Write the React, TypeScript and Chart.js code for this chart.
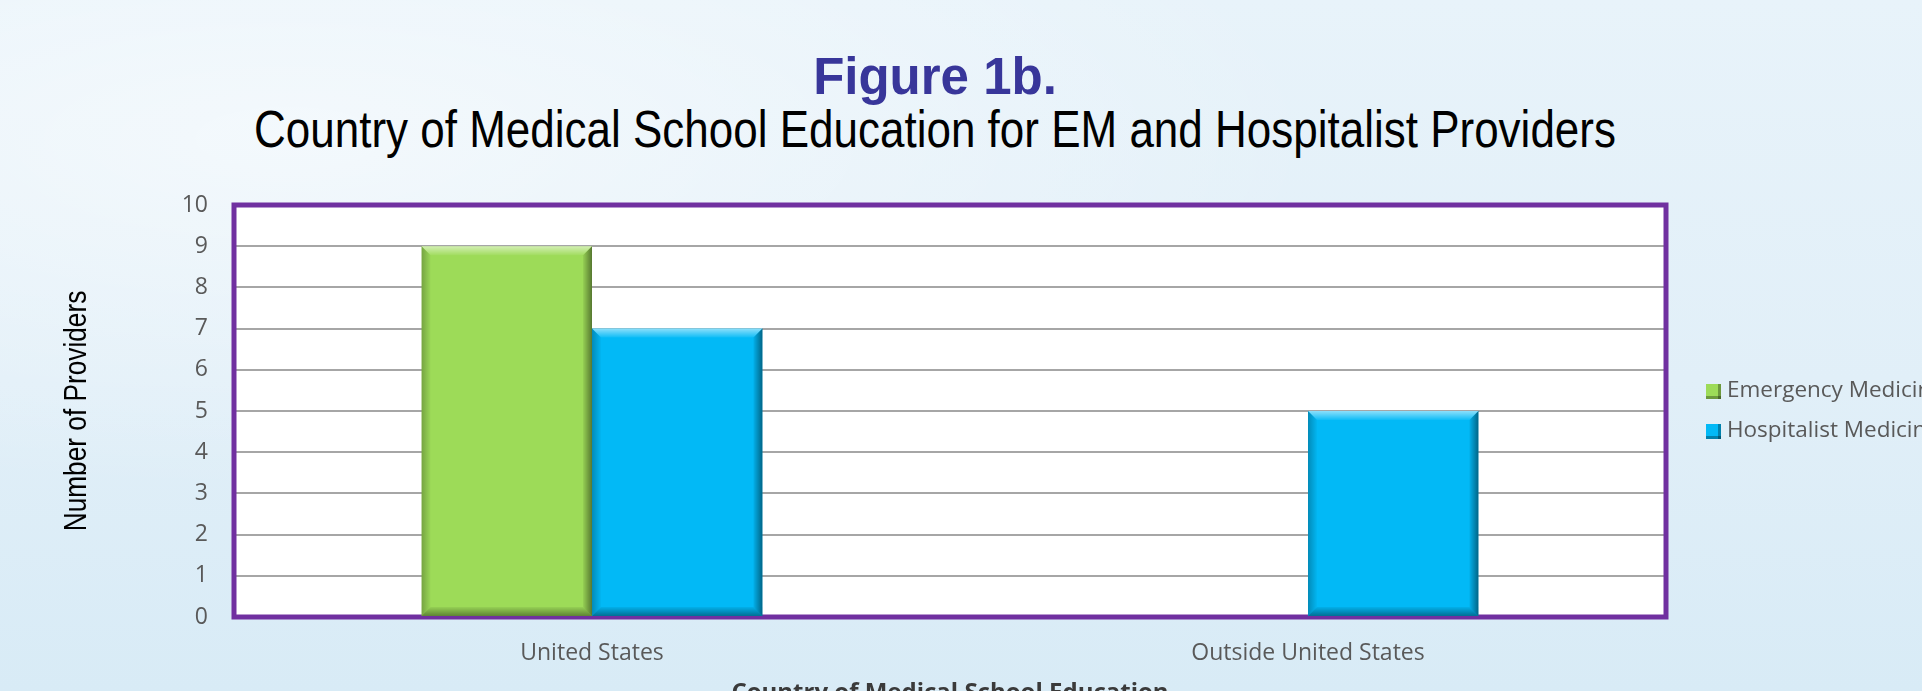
import React, { useEffect, useRef } from "react";
import { Chart, registerables } from "chart.js";

Chart.register(...registerables);

const categories = ["United States", "Outside United States"];
const seriesLabels = ["Emergency Medicine", "Hospitalist Medicine"];
const emergencyMedicine = [9, 0];
const hospitalistMedicine = [7, 5];
const seriesColors = ["#9DDB58", "#02B9F6"];
const yMin = 0;
const yMax = 10;
const yStep = 1;

const titleText = "Figure 1b.";
const subtitleText = "Country of Medical School Education for EM and Hospitalist Providers";
const yAxisTitle = "Number of Providers";
const xAxisTitle = "Country of Medical School Education";

const TICK_FONT = "'Open Sans', 'Noto Sans', sans-serif";
const SANS_FONT = "'Liberation Sans', Arial, sans-serif";

const plotPlugin = {
  id: "plotDecor",
  beforeDraw(chart: any) {
    const { ctx, chartArea } = chart;
    ctx.save();
    ctx.fillStyle = "#ffffff";
    ctx.fillRect(chartArea.left, chartArea.top, chartArea.right - chartArea.left, chartArea.bottom - chartArea.top);
    ctx.restore();
  },
  beforeDatasetsDraw(chart: any) {
    const { ctx, chartArea } = chart;
    ctx.save();
    ctx.strokeStyle = "#7030A0";
    ctx.lineWidth = 5;
    ctx.strokeRect(chartArea.left, chartArea.top, chartArea.right - chartArea.left, chartArea.bottom - chartArea.top);
    ctx.restore();
  },
  afterDatasetsDraw(chart: any) {
    const { ctx } = chart;
    chart.data.datasets.forEach((ds: any, di: number) => {
      const meta = chart.getDatasetMeta(di);
      meta.data.forEach((bar: any) => {
        const { x, y, base, width } = bar.getProps(["x", "y", "base", "width"], true);
        const h = base - y;
        if (h < 2) return;
        const l = x - width / 2;
        const r = x + width / 2;
        const t = y;
        const b = base;
        const bv = 9;
        const poly = (pts: number[][], fill: any) => {
          ctx.beginPath();
          ctx.moveTo(pts[0][0], pts[0][1]);
          for (let i = 1; i < pts.length; i++) ctx.lineTo(pts[i][0], pts[i][1]);
          ctx.closePath();
          ctx.fillStyle = fill;
          ctx.fill();
        };
        ctx.save();
        const gTop = ctx.createLinearGradient(0, t, 0, t + bv);
        gTop.addColorStop(0, "rgba(255,255,255,0.55)");
        gTop.addColorStop(1, "rgba(255,255,255,0.05)");
        poly([[l, t], [r, t], [r - bv, t + bv], [l + bv, t + bv]], gTop);
        const gR = ctx.createLinearGradient(r - bv, 0, r, 0);
        gR.addColorStop(0, "rgba(0,0,0,0.05)");
        gR.addColorStop(1, "rgba(0,0,0,0.45)");
        poly([[r, t], [r, b], [r - bv, b - bv], [r - bv, t + bv]], gR);
        const gB = ctx.createLinearGradient(0, b - bv, 0, b);
        gB.addColorStop(0, "rgba(0,0,0,0.05)");
        gB.addColorStop(1, "rgba(0,0,0,0.4)");
        poly([[l, b], [r, b], [r - bv, b - bv], [l + bv, b - bv]], gB);
        const gL = ctx.createLinearGradient(l, 0, l + bv, 0);
        gL.addColorStop(0, "rgba(0,0,0,0.25)");
        gL.addColorStop(1, "rgba(0,0,0,0.02)");
        poly([[l, t], [l, b], [l + bv, b - bv], [l + bv, t + bv]], gL);
        ctx.restore();
      });
    });
  },
  afterDraw(chart: any) {
    const { ctx, chartArea } = chart;
    const cy = (chartArea.top + chartArea.bottom) / 2;
    ctx.save();
    ctx.translate(77, cy);
    ctx.rotate(-Math.PI / 2);
    ctx.scale(0.82, 1);
    ctx.font = `32px ${SANS_FONT}`;
    ctx.fillStyle = "#000000";
    ctx.textAlign = "center";
    ctx.textBaseline = "middle";
    ctx.fillText(yAxisTitle, 0, 0);
    ctx.restore();
    const x0 = chartArea.right + 40;
    ctx.save();
    ctx.font = `22.5px ${TICK_FONT}`;
    ctx.textBaseline = "middle";
    ctx.textAlign = "left";
    chart.data.datasets.forEach((ds: any, i: number) => {
      const yc = cy - 20 + i * 40;
      ctx.fillStyle = ds.backgroundColor;
      ctx.fillRect(x0, yc - 7, 15, 15);
      ctx.fillStyle = "rgba(0,0,0,0.3)";
      ctx.fillRect(x0, yc + 5, 15, 3);
      ctx.fillRect(x0 + 12, yc - 7, 3, 15);
      ctx.fillStyle = "#595959";
      ctx.fillText(ds.label, x0 + 21, yc);
    });
    ctx.restore();
  },
};

export default function App() {
  const ref = useRef<HTMLCanvasElement | null>(null);

  useEffect(() => {
    if (!ref.current) return;
    const chart = new Chart(ref.current, {
      type: "bar",
      data: {
        labels: categories,
        datasets: [
          { label: seriesLabels[0], data: emergencyMedicine, backgroundColor: seriesColors[0] },
          { label: seriesLabels[1], data: hospitalistMedicine, backgroundColor: seriesColors[1] },
        ],
      },
      options: {
        responsive: false,
        animation: false,
        devicePixelRatio: 1,
        layout: { padding: { top: 205, right: 256, left: 0, bottom: 0 } },
        datasets: { bar: { categoryPercentage: 0.476, barPercentage: 1.0, borderWidth: 0 } },
        plugins: {
          legend: { display: false },
          title: { display: false },
          tooltip: { enabled: false },
        },
        scales: {
          x: {
            grid: { display: false, drawTicks: false },
            border: { display: false },
            ticks: { color: "#595959", font: { family: TICK_FONT, size: 23 }, padding: 23 },
            title: {
              display: true,
              text: xAxisTitle,
              color: "#3a3a3a",
              font: { family: TICK_FONT, size: 24, weight: "bold" },
              padding: { top: 0, bottom: -17 },
            },
            afterFit(scale: any) {
              scale.height = 74;
            },
          },
          y: {
            min: yMin,
            max: yMax,
            grid: { color: "#a6a6a6", lineWidth: 2, drawTicks: false },
            border: { display: false },
            ticks: { stepSize: yStep, color: "#595959", font: { family: TICK_FONT, size: 23 }, padding: 26 },
            title: { display: false },
            afterFit(scale: any) {
              scale.width = 234;
            },
          },
        },
      },
      plugins: [plotPlugin],
    });
    return () => chart.destroy();
  }, []);

  return (
    <div
      style={{
        position: "fixed",
        left: 0,
        top: 0,
        width: 1922,
        height: 691,
        overflow: "hidden",
        background:
          "radial-gradient(ellipse at 15% 20%, rgba(255,255,255,0.55) 0%, rgba(255,255,255,0) 45%), linear-gradient(180deg, #e8f3fa 0%, #e1eff8 55%, #d8ebf6 100%)",
      }}
    >
      <div
        style={{
          position: "absolute",
          left: 0,
          top: 51,
          width: 1870,
          textAlign: "center",
          fontFamily: SANS_FONT,
          fontWeight: "bold",
          fontSize: 51,
          lineHeight: "51px",
          color: "#38369A",
          whiteSpace: "nowrap",
        }}
      >
        {titleText}
      </div>
      <div
        style={{
          position: "absolute",
          left: 0,
          top: 103,
          width: 1870,
          textAlign: "center",
          fontFamily: SANS_FONT,
          fontSize: 52,
          lineHeight: "52px",
          color: "#000000",
          whiteSpace: "nowrap",
          transform: "scaleX(0.846)",
          transformOrigin: "935px 0",
        }}
      >
        {subtitleText}
      </div>
      <canvas ref={ref} width={1922} height={691} style={{ position: "absolute", left: 0, top: 0 }} />
    </div>
  );
}
